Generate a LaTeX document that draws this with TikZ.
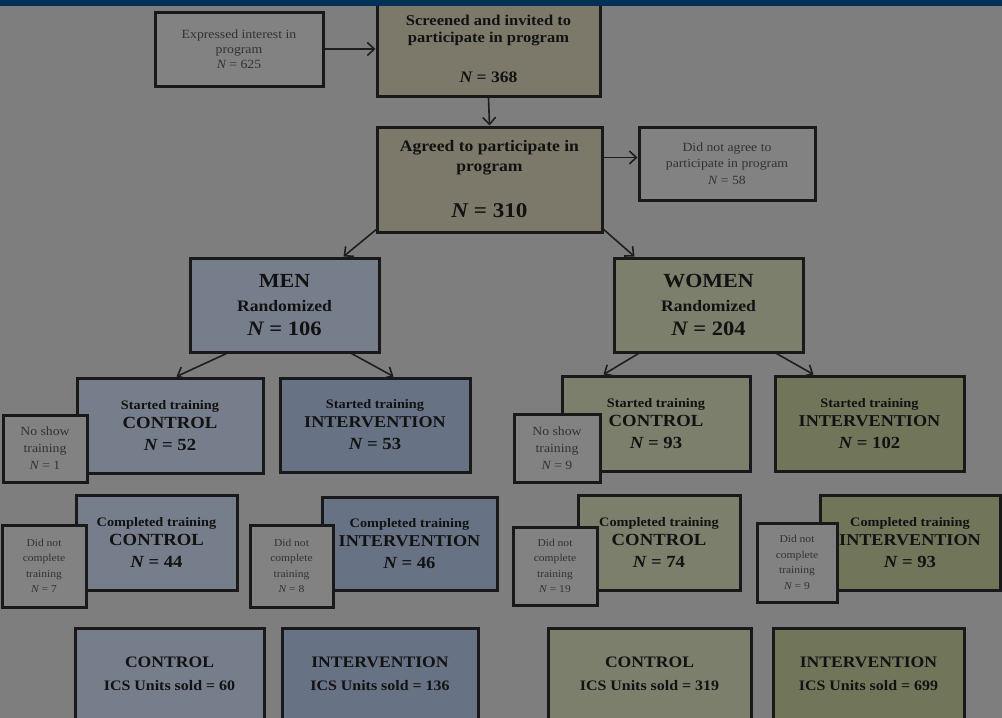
\documentclass[tikz,border=0pt]{standalone}
\usepackage{fontspec}
\setmainfont[FakeStretch=1.1]{Liberation Serif}
\usetikzlibrary{arrows.meta}
\definecolor{bgc}{RGB}{126,126,126}
\definecolor{topbar}{RGB}{0,50,88}
\definecolor{plainc}{RGB}{130,130,130}
\definecolor{khaki}{RGB}{124,121,106}
\definecolor{menA}{RGB}{118,125,139}
\definecolor{menB}{RGB}{103,114,133}
\definecolor{womA}{RGB}{123,127,107}
\definecolor{womB}{RGB}{113,118,91}
\definecolor{arrc}{RGB}{30,30,30}
\definecolor{maintxt}{RGB}{18,18,18}
\definecolor{smalltxt}{RGB}{50,50,50}
\newcommand{\fsz}[2]{\fontsize{#1}{#2}\selectfont}
\begin{document}
\begin{tikzpicture}[x=1pt,y=-1pt,
  box/.style={draw=black!90, line width=3pt, inner sep=0pt, align=center, text=maintxt},
  small/.style={box, fill=plainc, text=smalltxt},
  arr/.style={draw=arrc, line width=1.6pt, -{Straight Barb[length=7pt,width=13pt]}}]
\useasboundingbox (0,0) rectangle (1002,718);
\fill[bgc] (0,0) rectangle (1002,718);
\begin{scope}
\clip (0,0) rectangle (1002,718);
% top row
\node[small, minimum width=168pt, minimum height=74pt, font=\fsz{12.5}{15}] (exp) at (239,49)
  {Expressed interest in\\program\\{\itshape N} = 625};
\node[box, fill=khaki, minimum width=223pt, minimum height=94pt, font=\fsz{15}{17}\bfseries] (scr) at (488.5,49)
  {Screened and invited to\\participate in program\\[23pt]{\fsz{16}{17}{\itshape N} = 368}};
\node[box, fill=khaki, minimum width=225pt, minimum height=105pt, font=\fsz{16}{20}\bfseries] (agr) at (489.5,179.5)
  {Agreed to participate in\\program\\[26pt]{\fsz{21}{20}{\itshape N} = 310}};
\node[small, minimum width=176pt, minimum height=73pt, font=\fsz{12.5}{16.5}] (dna) at (727,163.5)
  {Did not agree to\\participate in program\\{\itshape N} = 58};
% men / women
\node[box, fill=menA, minimum width=189pt, minimum height=94pt, font=\fsz{16}{24}\bfseries] (men) at (284.5,305)
  {{\fsz{20}{24}MEN}\\Randomized\\{\fsz{20.5}{24}{\itshape N} = 106}};
\node[box, fill=womA, minimum width=189pt, minimum height=94pt, font=\fsz{16}{24}\bfseries] (wom) at (708.5,305)
  {{\fsz{20}{24}WOMEN}\\Randomized\\{\fsz{20.5}{24}{\itshape N} = 204}};
% started training
\node[box, fill=menA, minimum width=186pt, minimum height=95pt, font=\fsz{13}{19}\bfseries] (mc) at (170,425.5)
  {Started training\\{\fsz{17}{19}CONTROL}\\[3pt]{\fsz{17}{19}{\itshape N} = 52}};
\node[small, minimum width=84pt, minimum height=67pt, font=\fsz{12.5}{17}] (mns) at (45,448.5)
  {No show\\training\\{\itshape N} = 1};
\node[box, fill=menB, minimum width=190pt, minimum height=94pt, font=\fsz{13}{19}\bfseries] (mi) at (375,425)
  {Started training\\{\fsz{16.5}{19}INTERVENTION}\\[3pt]{\fsz{17}{19}{\itshape N} = 53}};
\node[box, fill=womA, minimum width=188pt, minimum height=95pt, font=\fsz{13}{19}\bfseries] (wc) at (656,423.5)
  {Started training\\{\fsz{17}{19}CONTROL}\\[3pt]{\fsz{17}{19}{\itshape N} = 93}};
\node[small, minimum width=86pt, minimum height=68pt, font=\fsz{12.5}{17}] (wns) at (557,448)
  {No show\\training\\{\itshape N} = 9};
\node[box, fill=womB, minimum width=189pt, minimum height=95pt, font=\fsz{13}{19}\bfseries] (wi) at (869.5,423.5)
  {Started training\\{\fsz{16.5}{19}INTERVENTION}\\[3pt]{\fsz{17}{19}{\itshape N} = 102}};
% completed training
\node[box, fill=menA, minimum width=161pt, minimum height=95pt, font=\fsz{13}{19}\bfseries] (mcc) at (156.5,542.5)
  {Completed training\\{\fsz{17}{19}CONTROL}\\[3pt]{\fsz{17}{19}{\itshape N} = 44}};
\node[small, minimum width=84pt, minimum height=82pt, font=\fsz{10.5}{15.5}] (mcd) at (44,566)
  {Did not\\complete\\training\\{\itshape N} = 7};
\node[box, fill=menB, minimum width=175pt, minimum height=93pt, font=\fsz{13}{19}\bfseries] (mic) at (409.5,543.5)
  {Completed training\\{\fsz{16.5}{19}INTERVENTION}\\[3pt]{\fsz{17}{19}{\itshape N} = 46}};
\node[small, minimum width=83pt, minimum height=82pt, font=\fsz{10.5}{15.5}] (mid) at (291.5,566)
  {Did not\\complete\\training\\{\itshape N} = 8};
\node[box, fill=womA, minimum width=162pt, minimum height=95pt, font=\fsz{13}{19}\bfseries] (wcc) at (659,542.5)
  {Completed training\\{\fsz{17}{19}CONTROL}\\[3pt]{\fsz{17}{19}{\itshape N} = 74}};
\node[small, minimum width=84pt, minimum height=78pt, font=\fsz{10.5}{15.5}] (wcd) at (555,566)
  {Did not\\complete\\training\\{\itshape N} = 19};
\node[box, fill=womB, minimum width=180pt, minimum height=95pt, font=\fsz{13}{19}\bfseries] (wic) at (910,542.5)
  {Completed training\\{\fsz{16.5}{19}INTERVENTION}\\[3pt]{\fsz{17}{19}{\itshape N} = 93}};
\node[small, minimum width=80pt, minimum height=79pt, font=\fsz{10.5}{15.5}] (wid) at (797,562.5)
  {Did not\\complete\\training\\{\itshape N} = 9};
% bottom
\node[box, fill=menA, minimum width=189pt, minimum height=92pt, font=\fsz{14.5}{23}\bfseries] (bmc) at (169.5,674)
  {{\fsz{16}{23}CONTROL}\\ICS Units sold = 60};
\node[box, fill=menB, minimum width=196pt, minimum height=92pt, font=\fsz{14.5}{23}\bfseries] (bmi) at (380,674)
  {{\fsz{16}{23}INTERVENTION}\\ICS Units sold = 136};
\node[box, fill=womA, minimum width=203pt, minimum height=92pt, font=\fsz{14.5}{23}\bfseries] (bwc) at (649.5,674)
  {{\fsz{16}{23}CONTROL}\\ICS Units sold = 319};
\node[box, fill=womB, minimum width=191pt, minimum height=92pt, font=\fsz{14.5}{23}\bfseries] (bwi) at (868.5,674)
  {{\fsz{16}{23}INTERVENTION}\\ICS Units sold = 699};
% connectors
\draw[arr] (exp.east) -- (scr.west);
\draw[arr] (scr.south) -- (agr.north);
\draw[arr] ([yshift=22pt]agr.east) -- ([yshift=6pt]dna.west);
\draw[arr] ([xshift=2pt,yshift=5pt]agr.south west) -- ([xshift=-37pt]men.north east);
\draw[arr] ([xshift=-1pt,yshift=5pt]agr.south east) -- ([xshift=22pt]wom.north west);
\draw[arr] ([xshift=38pt]men.south west) -- ([xshift=101pt]mc.north west);
\draw[arr] ([xshift=-29pt]men.south east) -- ([xshift=115pt]mi.north west);
\draw[arr] ([xshift=26pt]wom.south west) -- ([xshift=43pt]wc.north west);
\draw[arr] ([xshift=-28pt]wom.south east) -- ([xshift=40pt]wi.north west);
% top bar
\fill[topbar] (0,0) rectangle (1002,6);
\end{scope}
\end{tikzpicture}
\end{document}
